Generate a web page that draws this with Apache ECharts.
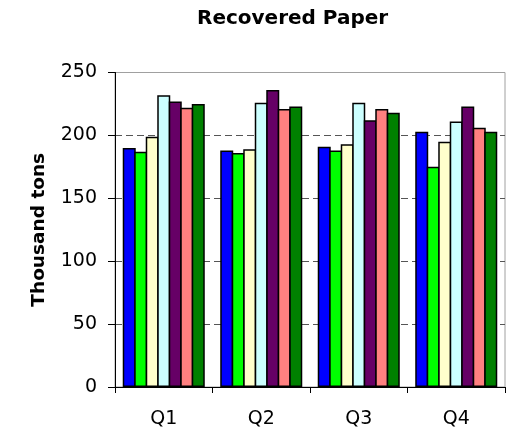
<!DOCTYPE html>
<html>
<head>
<meta charset="utf-8">
<script src="https://cdn.jsdelivr.net/npm/echarts@6/dist/echarts.min.js"></script>
<style>
html,body{margin:0;padding:0;background:#fff;}
#chart{width:507px;height:437px;}
</style>
</head>
<body>
<div id="chart"></div>
<script>
var categories = ['Q1', 'Q2', 'Q3', 'Q4'];
var seriesNames = ['Series 1', 'Series 2', 'Series 3', 'Series 4', 'Series 5', 'Series 6', 'Series 7'];
var series1 = [190, 188, 191, 203];
var series2 = [187, 186, 188, 175];
var series3 = [199, 189, 193, 195];
var series4 = [232, 226, 226, 211];
var series5 = [227, 236, 212, 223];
var series6 = [222, 221, 221, 206];
var series7 = [225, 223, 218, 203];
var yTicks = [0, 50, 100, 150, 200, 250];

var allData = [series1, series2, series3, series4, series5, series6, series7];
var colors = ['#0000FF', '#00FF00', '#FFFFCC', '#CCFFFF', '#660066', '#FF8080', '#008000'];
var FONT = 'DejaVu Sans';

var chart = echarts.init(document.getElementById('chart'), null, {renderer: 'canvas'});
chart.setOption({
  animation: false,
  backgroundColor: '#ffffff',
  title: {
    text: 'Recovered Paper',
    left: 192,
    top: 4,
    textStyle: {fontFamily: FONT, fontSize: 20, fontWeight: 'bold', color: '#000'}
  },
  grid: {
    left: 115, right: 2, top: 72.5, bottom: 50,
    show: true, borderColor: '#a0a0a0', borderWidth: 1, backgroundColor: 'transparent'
  },
  xAxis: {
    type: 'category',
    data: categories,
    axisLine: {lineStyle: {color: '#000', width: 1}},
    axisTick: {show: true, alignWithLabel: false, length: 6, lineStyle: {color: '#000'}},
    axisLabel: {fontFamily: FONT, fontSize: 19, color: '#000', margin: 23}
  },
  yAxis: {
    type: 'value',
    min: yTicks[0],
    max: yTicks[yTicks.length - 1],
    interval: 50,
    name: 'Thousand tons',
    nameLocation: 'middle',
    nameGap: 66,
    nameTextStyle: {fontFamily: FONT, fontSize: 18.5, fontWeight: 'bold', color: '#000'},
    axisLine: {show: true, lineStyle: {color: '#000', width: 1}},
    axisTick: {show: true, inside: false, length: 7, lineStyle: {color: '#000'}},
    axisLabel: {fontFamily: FONT, fontSize: 19, color: '#000', margin: 18},
    splitLine: {
      show: true, showMinLine: false, showMaxLine: false,
      lineStyle: {color: '#555', width: 1, type: [7, 4]}
    }
  },
  series: allData.map(function (d, i) {
    return {
      name: seriesNames[i],
      type: 'bar',
      data: d,
      barWidth: 13,
      barGap: '-11.5%',
      itemStyle: {color: colors[i], borderColor: '#000', borderWidth: 1.5}
    };
  })
});
</script>
</body>
</html>
